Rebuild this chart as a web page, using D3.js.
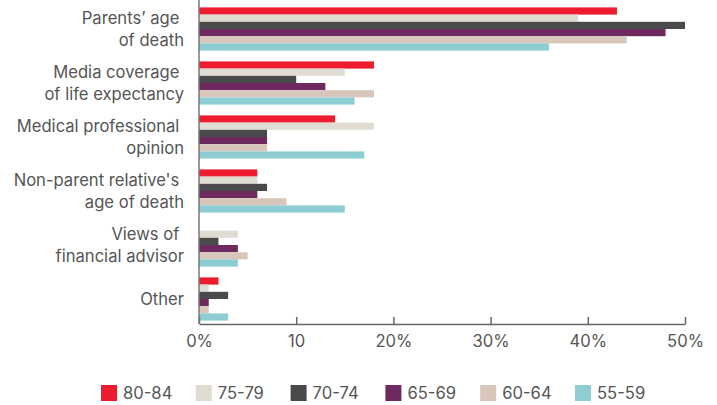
<!DOCTYPE html>
<html>
<head>
<meta charset="utf-8">
<script src="https://cdn.jsdelivr.net/npm/d3@7"></script>
<style>
  html, body { margin: 0; padding: 0; background: #fff; }
  svg { display: block; }
  text { font-family: Inter, "Noto Sans", sans-serif; fill: #555; }
</style>
</head>
<body>
<svg id="chart" width="717" height="405"></svg>
<script>
// ---- data ----
const categories = [
  ["Parents’ age ", "of death"],
  ["Media coverage ", "of life expectancy"],
  ["Medical professional ", "opinion"],
  ["Non-parent relative's ", "age of death"],
  ["Views of ", "financial advisor"],
  ["Other"]
];
const seriesNames = ["80-84", "75-79", "70-74", "65-69", "60-64", "55-59"];
const seriesColors = ["#ED1C2E", "#E0DCD4", "#4A4A4C", "#6E2A5E", "#D9C6BB", "#8DCDD3"];
const v80_84 = [43, 18, 14, 6, 0, 2];
const v75_79 = [39, 15, 18, 6, 4, 1];
const v70_74 = [50, 10, 7, 7, 2, 3];
const v65_69 = [48, 13, 7, 6, 4, 1];
const v60_64 = [44, 18, 7, 9, 5, 1];
const v55_59 = [36, 16, 17, 15, 4, 3];
const seriesValues = [v80_84, v75_79, v70_74, v65_69, v60_64, v55_59];
const tickValues = [0, 10, 20, 30, 40, 50];
const tickLabels = ["0%", "10", "20%", "30%", "40%", "50%"];

// ---- layout ----
const FONT = "Inter, 'Noto Sans', sans-serif";
const FS = 16.6;
const svg = d3.select("#chart");
const x0 = 199, x1 = 685, axisY = 324;

const x = d3.scaleLinear().domain([0, 50]).range([x0, x1]);
const y = d3.scaleBand().domain(d3.range(categories.length))
  .range([2, 326]).paddingInner(0.2).paddingOuter(0.1);
const yInner = d3.scaleBand().domain(d3.range(seriesNames.length))
  .range([0, y.bandwidth()]).padding(0);

// bars
const groups = svg.append("g").selectAll("g")
  .data(categories.map((c, i) => i))
  .join("g")
  .attr("transform", i => `translate(0,${y(i)})`);

groups.selectAll("rect")
  .data(ci => seriesValues.map((vals, si) => ({ si, v: vals[ci] })))
  .join("rect")
  .attr("x", x(0))
  .attr("y", d => yInner(d.si))
  .attr("width", d => x(d.v) - x(0))
  .attr("height", yInner.bandwidth())
  .attr("fill", d => seriesColors[d.si]);

// x axis
const xAxis = d3.axisBottom(x)
  .tickValues(tickValues)
  .tickFormat((d, i) => tickLabels[i])
  .tickSizeInner(-7)
  .tickSizeOuter(0)
  .tickPadding(10);
const gx = svg.append("g").attr("transform", `translate(0,${axisY})`).call(xAxis);
gx.select(".domain").attr("stroke", "#666").attr("stroke-width", 1.5);
gx.selectAll(".tick line").attr("stroke", "#666").attr("stroke-width", 1.5);
gx.selectAll(".tick text")
  .attr("font-size", FS)
  .attr("font-family", FONT)
  .attr("fill", "#555")
  .attr("y", 17)
  .attr("dy", "0.35em");

// y axis line
svg.append("line")
  .attr("x1", x0).attr("x2", x0)
  .attr("y1", 0).attr("y2", axisY)
  .attr("stroke", "#777").attr("stroke-width", 1.5);

// category labels
const labelX = 184;
groups.each(function (ci) {
  const g = d3.select(this);
  const lines = categories[ci];
  const mid = y.bandwidth() / 2;
  const lh = 22;
  const t = g.append("text")
    .attr("text-anchor", "end")
    .attr("font-size", FS)
    .style("white-space", "pre");
  lines.forEach((ln, k) => {
    t.append("tspan")
      .attr("x", labelX)
      .attr("y", mid + (k - (lines.length - 1) / 2) * lh)
      .attr("dy", "0.35em")
      .text(ln);
  });
});

// legend
const legend = svg.append("g").selectAll("g")
  .data(seriesNames.map((n, i) => i))
  .join("g")
  .attr("transform", i => `translate(${101 + i * 94.8},385)`);
legend.append("rect")
  .attr("width", 16).attr("height", 16)
  .attr("fill", i => seriesColors[i]);
legend.append("text")
  .attr("x", 22).attr("y", 8).attr("dy", "0.35em")
  .attr("font-size", FS)
  .text(i => seriesNames[i]);
</script>
</body>
</html>
